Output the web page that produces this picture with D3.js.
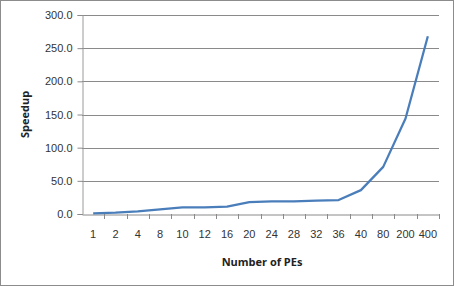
<!DOCTYPE html>
<html>
<head>
<meta charset="utf-8">
<script src="https://cdn.jsdelivr.net/npm/d3@7"></script>
<style>
  body { margin: 0; background: #fff; }
  svg { display: block; font-family: "Open Sans", "Liberation Sans", sans-serif; }
</style>
</head>
<body>
<div id="chart"></div>
<script>
const peCounts = ["1","2","4","8","10","12","16","20","24","28","32","36","40","80","200","400"];
const speedups = [1, 2, 4, 7, 10, 10, 11, 18, 19, 19, 20, 21, 36, 71, 144, 268];
const yTicks = [0, 50, 100, 150, 200, 250, 300];

const width = 454, height = 286;
const margin = { top: 15, right: 15, bottom: 72, left: 82 };

const svg = d3.select("#chart")
  .append("svg")
  .attr("width", width)
  .attr("height", height);

svg.append("rect")
  .attr("x", 0.5).attr("y", 0.5)
  .attr("width", width - 1).attr("height", height - 1)
  .attr("fill", "#fff")
  .attr("stroke", "#8c8c8c");

const x = d3.scaleBand()
  .domain(peCounts)
  .range([margin.left, width - margin.right]);

const y = d3.scaleLinear()
  .domain([0, 300])
  .range([height - margin.bottom, margin.top]);

// gridlines
svg.append("g")
  .selectAll("line")
  .data(yTicks.slice(1))
  .join("line")
  .attr("x1", margin.left).attr("x2", width - margin.right)
  .attr("y1", d => Math.round(y(d)) + 0.5).attr("y2", d => Math.round(y(d)) + 0.5)
  .attr("stroke", "#8a8a8a")
  .attr("stroke-width", 1);

// y axis
const yAxis = svg.append("g")
  .attr("transform", `translate(${margin.left + 0.5},0)`)
  .call(d3.axisLeft(y).tickValues(yTicks).tickFormat(d3.format(".1f")).tickSize(5).tickPadding(5));
yAxis.select(".domain").attr("stroke", "#9a9a9a");
yAxis.selectAll(".tick line").attr("stroke", "#8a8a8a");
yAxis.selectAll("text").attr("font-size", 11).attr("fill", "#333");

// x axis
const xAxis = svg.append("g")
  .attr("transform", `translate(0,${Math.round(y(0)) + 0.5})`)
  .call(d3.axisBottom(x).tickSize(0).tickPadding(16));
xAxis.select(".domain").attr("stroke", "#8a8a8a");
xAxis.selectAll("text").attr("font-size", 11).attr("fill", "#333");

// category separator ticks
svg.append("g")
  .selectAll("line")
  .data(peCounts.slice(1).concat(["end"]))
  .join("line")
  .attr("x1", (d, i) => Math.round(x(peCounts[0]) + x.step() * (i + 1)) + 0.5)
  .attr("x2", (d, i) => Math.round(x(peCounts[0]) + x.step() * (i + 1)) + 0.5)
  .attr("y1", Math.round(y(0)))
  .attr("y2", Math.round(y(0)) + 5)
  .attr("stroke", "#8a8a8a");

// line
const line = d3.line()
  .x((d, i) => x(peCounts[i]) + x.bandwidth() / 2)
  .y(d => y(d));

svg.append("path")
  .datum(speedups)
  .attr("fill", "none")
  .attr("stroke", "#4a7ebb")
  .attr("stroke-width", 2.25)
  .attr("stroke-linejoin", "round")
  .attr("d", line);

// axis titles
svg.append("text")
  .attr("x", 262)
  .attr("y", 266)
  .attr("text-anchor", "middle")
  .attr("font-size", 11)
  .attr("font-weight", "bold")
  .attr("fill", "#222")
  .text("Number of PEs");

svg.append("text")
  .attr("transform", `translate(29,${(margin.top + height - margin.bottom) / 2}) rotate(-90)`)
  .attr("text-anchor", "middle")
  .attr("font-size", 11)
  .attr("font-weight", "bold")
  .attr("fill", "#222")
  .text("Speedup");
</script>
</body>
</html>
